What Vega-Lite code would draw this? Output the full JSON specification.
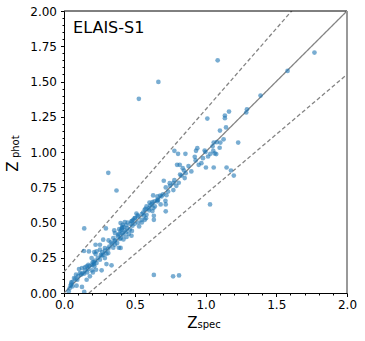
{
  "$schema": "https://vega.github.io/schema/vega-lite/v6.json",
  "width": 283,
  "height": 282,
  "autosize": "none",
  "padding": {"left": 64, "top": 11, "right": 18, "bottom": 48},
  "config": {
    "font": "DejaVu Sans",
    "view": {"stroke": null}
  },
  "resolve": {"axis": {"x": "independent", "y": "independent"}},
  "datasets": {
    "lines": [
      {"line": "one", "style": "solid", "zs": 0, "zp": 0},
      {"line": "one", "style": "solid", "zs": 2, "zp": 2},
      {"line": "upper", "style": "dashed", "zs": 0, "zp": 0.15},
      {"line": "upper", "style": "dashed", "zs": 2, "zp": 2.45},
      {"line": "lower", "style": "dashed", "zs": 0, "zp": -0.15},
      {"line": "lower", "style": "dashed", "zs": 2, "zp": 1.55}
    ],
    "pts": [
      {"zs":1.77,"zp":1.705},{"zs":1.58,"zp":1.575},{"zs":1.086,"zp":1.65},{"zs":0.667,"zp":1.497},{"zs":0.529,"zp":1.377},
      {"zs":1.389,"zp":1.40},{"zs":1.293,"zp":1.303},{"zs":1.288,"zp":1.28},{"zs":1.166,"zp":1.287},{"zs":1.137,"zp":1.259},
      {"zs":1.137,"zp":1.24},{"zs":1.013,"zp":1.237},{"zs":1.145,"zp":1.174},{"zs":1.102,"zp":1.152},{"zs":1.128,"zp":1.09},
      {"zs":1.105,"zp":1.067},{"zs":1.058,"zp":1.067},{"zs":1.231,"zp":1.067},{"zs":1.10,"zp":1.03},{"zs":0.942,"zp":1.027},
      {"zs":0.933,"zp":1.008},{"zs":0.994,"zp":1.01},{"zs":1.055,"zp":1.008},{"zs":1.065,"zp":0.99},{"zs":1.076,"zp":0.985},
      {"zs":1.034,"zp":0.987},{"zs":0.78,"zp":1.008},{"zs":0.806,"zp":0.987},{"zs":0.858,"zp":0.987},{"zs":0.924,"zp":0.966},
      {"zs":0.952,"zp":0.909},{"zs":1.003,"zp":0.89},{"zs":1.058,"zp":0.89},{"zs":1.149,"zp":0.89},{"zs":1.18,"zp":0.869},
      {"zs":1.20,"zp":0.833},{"zs":1.032,"zp":0.628},{"zs":0.799,"zp":0.909},{"zs":0.818,"zp":0.909},{"zs":0.839,"zp":0.885},
      {"zs":0.848,"zp":0.869},{"zs":0.86,"zp":0.85},{"zs":0.83,"zp":0.833},{"zs":0.811,"zp":0.782},{"zs":0.747,"zp":0.779},
      {"zs":0.773,"zp":0.779},{"zs":0.705,"zp":0.796},{"zs":0.719,"zp":0.749},{"zs":0.773,"zp":0.73},{"zs":0.724,"zp":0.694},
      {"zs":0.717,"zp":0.654},{"zs":0.719,"zp":0.628},{"zs":0.719,"zp":0.579},{"zs":0.66,"zp":0.685},{"zs":0.63,"zp":0.692},
      {"zs":0.66,"zp":0.65},{"zs":0.683,"zp":0.628},{"zs":0.625,"zp":0.645},{"zs":0.609,"zp":0.621},{"zs":0.604,"zp":0.642},
      {"zs":0.632,"zp":0.602},{"zs":0.635,"zp":0.548},{"zs":0.635,"zp":0.519},{"zs":0.625,"zp":0.581},{"zs":0.583,"zp":0.614},
      {"zs":0.576,"zp":0.597},{"zs":0.559,"zp":0.571},{"zs":0.566,"zp":0.548},{"zs":0.571,"zp":0.519},{"zs":0.512,"zp":0.564},
      {"zs":0.524,"zp":0.543},{"zs":0.531,"zp":0.472},{"zs":0.50,"zp":0.531},{"zs":0.477,"zp":0.508},{"zs":0.489,"zp":0.519},
      {"zs":0.371,"zp":0.727},{"zs":0.313,"zp":0.852},{"zs":0.143,"zp":0.458},{"zs":0.296,"zp":0.458},{"zs":0.355,"zp":0.444},
      {"zs":0.411,"zp":0.465},{"zs":0.40,"zp":0.496},{"zs":0.43,"zp":0.503},{"zs":0.446,"zp":0.46},{"zs":0.432,"zp":0.444},
      {"zs":0.458,"zp":0.42},{"zs":0.411,"zp":0.425},{"zs":0.383,"zp":0.413},{"zs":0.395,"zp":0.383},{"zs":0.36,"zp":0.373},
      {"zs":0.331,"zp":0.359},{"zs":0.348,"zp":0.321},{"zs":0.388,"zp":0.321},{"zs":0.277,"zp":0.378},{"zs":0.315,"zp":0.373},
      {"zs":0.289,"zp":0.319},{"zs":0.313,"zp":0.314},{"zs":0.254,"zp":0.307},{"zs":0.23,"zp":0.295},{"zs":0.214,"zp":0.29},
      {"zs":0.30,"zp":0.279},{"zs":0.266,"zp":0.264},{"zs":0.289,"zp":0.248},{"zs":0.141,"zp":0.298},{"zs":0.176,"zp":0.295},
      {"zs":0.223,"zp":0.276},{"zs":0.195,"zp":0.248},{"zs":0.202,"zp":0.217},{"zs":0.172,"zp":0.20},{"zs":0.16,"zp":0.189},
      {"zs":0.148,"zp":0.182},{"zs":0.127,"zp":0.177},{"zs":0.106,"zp":0.17},{"zs":0.113,"zp":0.142},{"zs":0.141,"zp":0.137},
      {"zs":0.164,"zp":0.146},{"zs":0.214,"zp":0.189},{"zs":0.226,"zp":0.165},{"zs":0.204,"zp":0.146},{"zs":0.266,"zp":0.161},
      {"zs":0.30,"zp":0.205},{"zs":0.336,"zp":0.196},{"zs":0.212,"zp":0.205},{"zs":0.23,"zp":0.212},{"zs":0.197,"zp":0.161},
      {"zs":0.085,"zp":0.13},{"zs":0.071,"zp":0.106},{"zs":0.094,"zp":0.094},{"zs":0.052,"zp":0.076},{"zs":0.047,"zp":0.052},
      {"zs":0.04,"zp":0.033},{"zs":0.061,"zp":0.047},{"zs":0.033,"zp":0.012},{"zs":0.089,"zp":0.052},{"zs":0.127,"zp":0.043},
      {"zs":0.143,"zp":0.009},{"zs":0.635,"zp":0.128},{"zs":0.771,"zp":0.118},{"zs":0.813,"zp":0.125},{"zs":0.16,"zp":0.094},
      {"zs":0.183,"zp":0.118},{"zs":0.254,"zp":0.236},{"zs":0.277,"zp":0.272},{"zs":0.313,"zp":0.283},{"zs":0.36,"zp":0.342},
      {"zs":0.376,"zp":0.354},{"zs":0.402,"zp":0.39},{"zs":0.418,"zp":0.413},{"zs":0.437,"zp":0.43},{"zs":0.465,"zp":0.449},
      {"zs":0.484,"zp":0.477},{"zs":0.50,"zp":0.491},{"zs":0.524,"zp":0.50},{"zs":0.548,"zp":0.519},{"zs":0.583,"zp":0.555},
      {"zs":0.602,"zp":0.586},{"zs":0.642,"zp":0.614},{"zs":0.665,"zp":0.661},{"zs":0.689,"zp":0.685},{"zs":0.736,"zp":0.72},
      {"zs":0.794,"zp":0.76},{"zs":0.853,"zp":0.815},{"zs":0.90,"zp":0.862},{"zs":0.982,"zp":0.956},{"zs":1.018,"zp":0.968},
      {"zs":0.971,"zp":0.921},{"zs":0.407,"zp":0.449},{"zs":0.414,"zp":0.484},{"zs":0.39,"zp":0.453},{"zs":0.442,"zp":0.397},
      {"zs":0.477,"zp":0.406},{"zs":0.348,"zp":0.39},{"zs":0.36,"zp":0.425},{"zs":0.254,"zp":0.342},{"zs":0.223,"zp":0.342},
      {"zs":0.05,"zp":0.06},{"zs":0.06,"zp":0.08},{"zs":0.08,"zp":0.1},{"zs":0.1,"zp":0.12},{"zs":0.12,"zp":0.13},
      {"zs":0.13,"zp":0.14},{"zs":0.15,"zp":0.16},{"zs":0.17,"zp":0.17},{"zs":0.18,"zp":0.19},{"zs":0.2,"zp":0.2},
      {"zs":0.21,"zp":0.22},{"zs":0.22,"zp":0.23},{"zs":0.24,"zp":0.25},{"zs":0.26,"zp":0.27},{"zs":0.27,"zp":0.29},
      {"zs":0.29,"zp":0.3},{"zs":0.32,"zp":0.33},{"zs":0.34,"zp":0.35},{"zs":0.36,"zp":0.37},{"zs":0.38,"zp":0.4},
      {"zs":0.39,"zp":0.42},{"zs":0.4,"zp":0.44},{"zs":0.41,"zp":0.46},{"zs":0.42,"zp":0.47},{"zs":0.44,"zp":0.48},
      {"zs":0.45,"zp":0.5},{"zs":0.47,"zp":0.49},{"zs":0.48,"zp":0.51},{"zs":0.5,"zp":0.53},{"zs":0.52,"zp":0.55},
      {"zs":0.55,"zp":0.56},{"zs":0.57,"zp":0.59},{"zs":0.6,"zp":0.6},{"zs":0.62,"zp":0.63},{"zs":0.64,"zp":0.65},
      {"zs":0.66,"zp":0.66},{"zs":0.68,"zp":0.69},{"zs":0.7,"zp":0.7},{"zs":0.75,"zp":0.76},{"zs":0.78,"zp":0.8},
      {"zs":0.82,"zp":0.84},{"zs":0.88,"zp":0.9},{"zs":0.93,"zp":0.94},{"zs":1.0,"zp":1.0},{"zs":1.05,"zp":1.04},
      {"zs":1.08,"zp":1.07},{"zs":0.4,"zp":0.32},{"zs":0.42,"zp":0.38},{"zs":0.48,"zp":0.44},{"zs":0.55,"zp":0.5},
      {"zs":0.58,"zp":0.53}
    ],
    "one": [{"n": 1}]
  },
  "layer": [
    {
      "data": {"name": "lines"},
      "mark": {"type": "line", "clip": true, "color": "#848484", "strokeWidth": 1.3},
      "encoding": {
        "x": {
          "field": "zs", "type": "quantitative",
          "scale": {"domain": [0, 2], "nice": false, "zero": false},
          "axis": {
            "orient": "bottom",
            "values": [0,0.1,0.2,0.3,0.4,0.5,0.6,0.7,0.8,0.9,1.0,1.1,1.2,1.3,1.4,1.5,1.6,1.7,1.8,1.9,2.0],
            "labelExpr": "round(datum.value*10) % 5 == 0 ? format(datum.value, '.1f') : ''",
            "labelOverlap": false,
            "labelFontSize": 12,
            "labelColor": "black",
            "labelPadding": 3,
            "labelFlush": false,
            "domainColor": "black",
            "tickColor": "black",
            "tickSize": {"condition": {"test": "round(datum.value*10) % 5 != 0", "value": 2}, "value": 3.5},
            "grid": false,
            "title": "Z",
            "titleFontSize": 15,
            "titleFontWeight": "normal",
            "titleColor": "black",
            "titleAlign": "center",
            "titleBaseline": "alphabetic",
            "titleX": 128,
            "titleY": 34
          }
        },
        "y": {
          "field": "zp", "type": "quantitative",
          "scale": {"domain": [0, 2], "nice": false, "zero": false},
          "axis": {
            "orient": "left",
            "values": [0,0.05,0.1,0.15,0.2,0.25,0.3,0.35,0.4,0.45,0.5,0.55,0.6,0.65,0.7,0.75,0.8,0.85,0.9,0.95,1.0,1.05,1.1,1.15,1.2,1.25,1.3,1.35,1.4,1.45,1.5,1.55,1.6,1.65,1.7,1.75,1.8,1.85,1.9,1.95,2.0],
            "labelExpr": "round(datum.value*100) % 25 == 0 ? format(datum.value, '.2f') : ''",
            "labelOverlap": false,
            "labelFontSize": 12,
            "labelColor": "black",
            "labelPadding": 4,
            "labelFlush": false,
            "domainColor": "black",
            "tickColor": "black",
            "tickSize": {"condition": {"test": "round(datum.value*100) % 25 != 0", "value": 2}, "value": 3.5},
            "grid": false,
            "title": "Z",
            "titleFontSize": 15,
            "titleFontWeight": "normal",
            "titleColor": "black",
            "titleAlign": "center",
            "titleBaseline": "alphabetic",
            "titleAngle": 270,
            "titleX": -47,
            "titleY": 155
          }
        },
        "detail": {"field": "line"},
        "strokeDash": {
          "field": "style", "type": "nominal",
          "scale": {"domain": ["solid", "dashed"], "range": [[1, 0], [4, 2.5]]},
          "legend": null
        }
      }
    },
    {
      "data": {"name": "pts"},
      "mark": {"type": "circle", "size": 22, "color": "#1f77b4", "opacity": 0.6, "clip": true},
      "encoding": {
        "x": {"field": "zs", "type": "quantitative", "axis": null},
        "y": {"field": "zp", "type": "quantitative", "axis": null}
      }
    },
    {
      "data": {"name": "one"},
      "mark": {"type": "rule", "color": "black", "strokeWidth": 1},
      "encoding": {
        "y": {"datum": 2, "type": "quantitative", "axis": null}
      }
    },
    {
      "data": {"name": "one"},
      "mark": {"type": "rule", "color": "#999999", "strokeWidth": 2},
      "encoding": {
        "x": {"datum": 2, "type": "quantitative", "axis": null}
      }
    },
    {
      "data": {"name": "one"},
      "mark": {"type": "text", "text": "ELAIS-S1", "fontSize": 16, "align": "left", "baseline": "alphabetic", "color": "black"},
      "encoding": {
        "x": {"datum": 0.064, "type": "quantitative", "axis": null},
        "y": {"datum": 1.844, "type": "quantitative", "axis": null}
      }
    },
    {
      "data": {"name": "one"},
      "mark": {"type": "text", "text": "spec", "fontSize": 10, "align": "left", "baseline": "alphabetic", "color": "black"},
      "encoding": {
        "x": {"datum": 0.943, "type": "quantitative", "axis": null},
        "y": {"datum": -0.248, "type": "quantitative", "axis": null}
      }
    },
    {
      "data": {"name": "one"},
      "mark": {"type": "text", "text": "phot", "fontSize": 10, "align": "left", "baseline": "alphabetic", "angle": 270, "color": "black"},
      "encoding": {
        "x": {"datum": -0.3145, "type": "quantitative", "axis": null},
        "y": {"datum": 0.957, "type": "quantitative", "axis": null}
      }
    }
  ]
}
